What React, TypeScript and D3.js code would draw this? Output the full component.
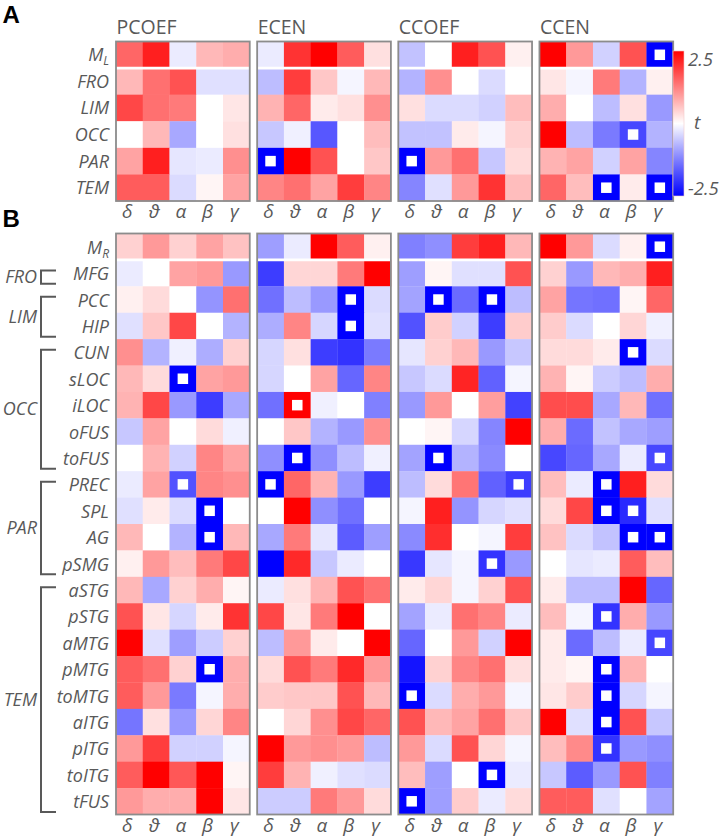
import React from 'react';
import * as d3 from 'd3';

const bands = ['δ', 'ϑ', 'α', 'β', 'γ'];
const measures = ['PCOEF', 'ECEN', 'CCOEF', 'CCEN'];
const lobesA = ['M_L', 'FRO', 'LIM', 'OCC', 'PAR', 'TEM'];
const regionsB = ['M_R', 'MFG', 'PCC', 'HIP', 'CUN', 'sLOC', 'iLOC', 'oFUS', 'toFUS', 'PREC', 'SPL', 'AG', 'pSMG', 'aSTG', 'pSTG', 'aMTG', 'pMTG', 'toMTG', 'aITG', 'pITG', 'toITG', 'tFUS'];
const groupNames = ['FRO', 'LIM', 'OCC', 'PAR', 'TEM'];
const groupFirst = ['MFG', 'PCC', 'CUN', 'PREC', 'aSTG'];
const groupLast = ['MFG', 'HIP', 'toFUS', 'pSMG', 'tFUS'];
const colorTicks = [2.5, -2.5];

const pcoefA = [
  [1.5, 2.2, -0.2, 0.7, 0.8],
  [0.7, 1.4, 1.7, -0.3, -0.3],
  [1.8, 1.4, 1.3, 0, 0.25],
  [0, 0.7, -0.85, 0, 0.3],
  [0.9, 2.2, -0.25, -0.2, 1.1],
  [1.6, 1.6, -0.35, 0.1, 0.9],
];
const ecenA = [
  [-0.2, 2.0, 2.5, 1.6, 0.3],
  [-0.65, 1.9, 0.55, -0.1, 0.7],
  [0.75, 1.5, 0.2, 0.3, 1.1],
  [-0.55, -0.15, -1.65, 0, 0.65],
  [-2.8, 2.5, 1.7, 0, 0.55],
  [1.2, 1.4, 0.9, 1.9, 1.2],
];
const ccoefA = [
  [-0.6, 0, 2.2, 1.7, 0.15],
  [-0.75, 1.1, 0, -0.35, 0],
  [0.3, -0.35, -0.35, -0.45, 0.65],
  [-0.6, -0.6, 0.2, -0.1, 0.45],
  [-2.8, 1.0, 1.4, -0.55, 0.35],
  [-1.2, -0.3, 1.0, 2.0, 0.65],
];
const ccenA = [
  [2.5, 1.0, -0.45, 1.7, -2.8],
  [0.25, -0.1, 1.3, -0.75, 0.15],
  [0.8, 0, -0.65, 0.3, -1.0],
  [2.5, -0.65, -1.3, -1.8, -0.75],
  [0.75, 0.9, -0.45, 0.9, -1.2],
  [1.5, 0.65, -2.8, 0.2, -2.8],
];

const pcoefB = [
  [0.45, 1.0, 0.45, 0.9, 0.6],
  [-0.2, 0, 0.9, 1.0, -1.0],
  [0.15, 0.35, 0, -1.05, 1.4],
  [-0.3, 0.55, 1.8, 0, -0.75],
  [1.1, -0.75, -0.15, -0.8, 0.45],
  [0.7, 0.35, -2.8, 0.9, 1.0],
  [0.75, 1.8, -1.0, -1.9, -0.85],
  [-0.55, 0.9, 0, 0.35, -0.15],
  [0, 0.75, -0.45, 1.2, 0.9],
  [-0.2, 0.9, -1.7, 1.2, 1.1],
  [-0.3, 0.2, -0.35, -2.8, 0],
  [0.7, 0, -0.75, -2.8, 0.7],
  [0.15, 1.0, 0.65, 1.3, 1.8],
  [0.7, -0.85, 0.45, 0.8, 0.1],
  [1.7, 0.25, -0.4, 0.2, 2.0],
  [2.5, -0.3, -0.95, -0.5, 0.45],
  [1.6, 1.4, 0.45, -2.8, 0.8],
  [1.6, 1.0, -1.3, -0.1, 0.8],
  [-1.35, 0.3, -1.0, 0.4, 1.2],
  [1.0, 1.9, -0.45, -0.45, -0.1],
  [1.6, 2.5, 1.65, 2.5, 0.1],
  [1.0, 0.8, 0.8, 2.5, 0.25],
];
const ecenB = [
  [-0.95, -0.2, 2.5, 1.6, 0.15],
  [-1.9, 0.4, 0.4, 1.3, 2.5],
  [-1.4, -0.65, -1.0, -2.8, -0.35],
  [-0.8, 1.2, -0.4, -2.8, -0.3],
  [-0.4, 0.3, -1.9, -2.0, -1.3],
  [-0.4, 0, 0.9, -1.5, 1.2],
  [-1.4, 2.8, -0.15, 0, -1.25],
  [0, 0.55, -0.75, -1.0, 1.1],
  [-1.1, -2.8, -1.1, -0.65, -0.15],
  [-2.8, 1.5, 0.75, -1.0, -1.9],
  [0, 2.5, -1.1, -1.4, 0],
  [-0.85, 1.3, -0.25, -1.6, -0.95],
  [-2.5, 2.1, -0.55, -0.2, 0],
  [-0.2, 0.3, 0.75, 1.7, 1.4],
  [1.8, 0.25, 1.3, 2.5, 0],
  [-0.65, 1.0, 0.2, 0, 2.5],
  [0.35, 1.7, 1.3, 2.1, 1.0],
  [0.5, 0.55, 0.55, 1.7, 0.7],
  [0, 0.4, 1.1, 1.8, 1.5],
  [2.5, 1.0, 1.1, 1.0, -0.65],
  [1.9, 0.75, -0.15, -0.3, -0.35],
  [-0.5, -0.5, 1.3, 1.0, 0.35],
];
const ccoefB = [
  [-1.25, -1.1, 1.9, 2.2, 0.7],
  [-0.95, 0.1, -0.3, -0.3, 1.7],
  [-0.9, -2.8, -1.45, -2.8, -0.65],
  [-1.7, 0.5, -0.45, -1.9, 0.5],
  [-0.25, 0.45, 0.7, -1.0, -0.55],
  [-0.55, -0.35, 2.15, -1.55, -0.1],
  [-1.0, 1.0, 0, 0.95, -1.85],
  [0, 0.1, -0.4, -1.2, 2.5],
  [-0.9, -2.8, -0.75, -1.15, 0],
  [-0.65, 0.35, 1.35, -1.55, -1.9],
  [-0.1, 2.2, -1.05, -0.4, -0.3],
  [-1.15, 2.05, 0, -0.1, 1.9],
  [-1.95, -0.25, -0.1, -2.0, -1.0],
  [0.2, 0.4, -0.1, 0.45, 1.7],
  [-0.9, -0.2, 1.4, 1.2, -0.2],
  [-1.5, 0, 1.0, -0.45, 2.5],
  [-2.3, 0.45, 1.2, 1.4, 0.3],
  [-2.8, -0.35, 0.8, 1.0, -0.1],
  [1.7, 0.7, 0.9, 1.4, 0.55],
  [1.0, -0.35, 1.7, 0.4, -0.1],
  [0.65, -0.95, 0, -2.8, -0.2],
  [-2.8, -0.95, 0.5, -0.2, 0.35],
];
const ccenB = [
  [2.5, 1.0, -0.35, 0.15, -2.8],
  [0.45, -1.0, 0.7, 0.8, 2.2],
  [0.9, -1.35, -1.4, 0.1, 1.5],
  [0.5, -0.35, 0, 0.4, -0.15],
  [0.35, 0.35, 0.2, -2.8, -0.35],
  [0.75, 0.1, -0.5, -0.65, 0.8],
  [1.75, 1.75, -0.85, 0.7, -1.4],
  [0.8, -1.45, -0.6, -0.85, -0.95],
  [-1.8, -1.5, -0.85, -0.2, -1.8],
  [0.65, -0.2, -2.8, 2.2, 0.35],
  [0.35, 1.8, -2.8, -2.1, -0.3],
  [0.6, -0.35, -0.6, -2.8, -2.8],
  [0, -0.25, -0.2, 1.6, 0.65],
  [0.2, -0.65, -0.65, 2.5, -1.5],
  [0.65, -0.1, -2.0, 0.8, -1.0],
  [0.2, -1.45, -0.65, -0.2, -1.8],
  [0.2, 0.1, -2.8, 0.75, 0],
  [0.25, 0.5, -2.8, -0.4, -0.1],
  [2.5, -0.3, -2.8, 1.7, -0.55],
  [0.65, 1.15, -2.0, -1.0, -1.1],
  [-0.55, -1.6, -1.0, 1.7, -1.25],
  [1.6, 1.6, -0.3, 0, -0.9],
];

// significant cells: [row, col]
const pcoefSigA: number[][] = [];
const ecenSigA = [[4, 0]];
const ccoefSigA = [[4, 0]];
const ccenSigA = [[0, 4], [3, 3], [5, 2], [5, 4]];
const pcoefSigB = [[5, 2], [9, 2], [10, 3], [11, 3], [16, 3]];
const ecenSigB = [[2, 3], [3, 3], [6, 1], [8, 1], [9, 0]];
const ccoefSigB = [[2, 1], [2, 3], [8, 1], [9, 4], [12, 3], [17, 0], [20, 3], [21, 0]];
const ccenSigB = [[0, 4], [4, 3], [8, 4], [9, 2], [10, 2], [10, 3], [11, 3], [11, 4], [14, 2], [15, 4], [16, 2], [17, 2], [18, 2], [19, 2]];

const dataA = [pcoefA, ecenA, ccoefA, ccenA];
const dataB = [pcoefB, ecenB, ccoefB, ccenB];
const sigA = [pcoefSigA, ecenSigA, ccoefSigA, ccenSigA];
const sigB = [pcoefSigB, ecenSigB, ccoefSigB, ccenSigB];

const W = 722;
const H = 838;
const FONT = "'Open Sans', 'DejaVu Sans', sans-serif";
const GRAY = '#595959';

const color = d3
  .scaleLinear<string>()
  .domain([-2.5, 0, 2.5])
  .range(['#0000ff', '#ffffff', '#ff0000'])
  .interpolate(d3.interpolateRgb)
  .clamp(true);

const panelX = d3.scaleBand<string>().domain(measures).range([116, 673.2]).paddingInner(0.0525).paddingOuter(0);
const colX = d3.scaleBand<string>().domain(bands).range([0, panelX.bandwidth()]);
const rowA = d3.scaleBand<string>().domain(lobesA).range([41.5, 201]);
const rowB = d3.scaleBand<string>().domain(regionsB).range([233.5, 814.5]);

function RowLabel({ name, y }: { name: string; y: number }) {
  if (name.startsWith('M_')) {
    return (
      <text x={109} y={y} textAnchor="end" fontStyle="italic" fontSize={18} fill={GRAY} fontFamily={FONT}>
        M<tspan fontSize={12} dy={4}>{name.slice(2)}</tspan>
      </text>
    );
  }
  return (
    <text x={109} y={y} textAnchor="end" fontStyle="italic" fontSize={18} fill={GRAY} fontFamily={FONT}>
      {name}
    </text>
  );
}

function Heatmap({
  values,
  sig,
  rows,
  yScale,
  x0,
}: {
  values: number[][];
  sig: number[][];
  rows: string[];
  yScale: d3.ScaleBand<string>;
  x0: number;
}) {
  const cw = colX.bandwidth();
  const ch = yScale.bandwidth();
  const [yTop, yBot] = yScale.range();
  const sepY = yScale(rows[1]) as number;
  const m = 10.5;
  return (
    <g transform={`translate(${x0},0)`}>
      {values.map((row, i) =>
        row.map((v, j) => (
          <rect
            key={`${i}-${j}`}
            x={colX(bands[j])}
            y={yScale(rows[i])}
            width={cw + 0.3}
            height={ch + 0.3}
            fill={color(v)}
          />
        ))
      )}
      {sig.map(([i, j]) => (
        <rect
          key={`s${i}-${j}`}
          x={(colX(bands[j]) as number) + cw / 2 - m / 2}
          y={(yScale(rows[i]) as number) + ch / 2 - m / 2}
          width={m}
          height={m}
          fill="#ffffff"
        />
      ))}
      <line x1={0} x2={colX.range()[1]} y1={sepY} y2={sepY} stroke="#ffffff" strokeWidth={2.6} />
      <rect x={0} y={yTop} width={colX.range()[1]} height={yBot - yTop} fill="none" stroke="#8c8c8c" strokeWidth={1.8} />
    </g>
  );
}

function BandLabels({ x0, y }: { x0: number; y: number }) {
  return (
    <g transform={`translate(${x0},0)`}>
      {bands.map((b) => (
        <text
          key={b}
          x={(colX(b) as number) + colX.bandwidth() / 2 - 2}
          y={y}
          textAnchor="middle"
          fontStyle="italic"
          fontSize={19}
          fill={GRAY}
          fontFamily={FONT}
        >
          {b}
        </text>
      ))}
    </g>
  );
}

export default function App() {
  const cbX = 673;
  const cbW = 11;
  const cbTop = 51;
  const cbBot = 196;
  const cbScale = d3.scaleLinear().domain([2.5, -2.5]).range([cbTop, cbBot]);
  const stops = d3.range(0, 1.0001, 0.1);
  return (
    <svg
      width={W}
      height={H}
      viewBox={`0 0 ${W} ${H}`}
      style={{ position: 'absolute', left: 0, top: 0, background: '#ffffff' }}
    >
      <defs>
        <linearGradient id="cbGrad" x1="0" y1="0" x2="0" y2="1">
          {stops.map((s) => (
            <stop key={s} offset={s} stopColor={color(2.5 - 5 * s)} />
          ))}
        </linearGradient>
      </defs>
      <rect x={0} y={0} width={W} height={H} fill="#ffffff" />

      {/* Panel letters */}
      <text x={2.5} y={22.5} fontSize={24} fontWeight="bold" fontFamily="'Liberation Sans', Arial, sans-serif" fill="#000">A</text>
      <text x={2.5} y={227} fontSize={24} fontWeight="bold" fontFamily="'Liberation Sans', Arial, sans-serif" fill="#000">B</text>

      {/* Panel A */}
      {measures.map((m) => (
        <text key={m} x={(panelX(m) as number) + 0.5} y={33.5} fontSize={19.5} fill={GRAY} fontFamily={FONT}>
          {m}
        </text>
      ))}
      {lobesA.map((r) => (
        <RowLabel key={r} name={r} y={(rowA(r) as number) + rowA.bandwidth() / 2 + 6.5} />
      ))}
      {measures.map((m, k) => (
        <Heatmap key={m} values={dataA[k]} sig={sigA[k]} rows={lobesA} yScale={rowA} x0={panelX(m) as number} />
      ))}
      {measures.map((m) => (
        <BandLabels key={m} x0={panelX(m) as number} y={218} />
      ))}

      {/* Colorbar */}
      <rect x={cbX} y={cbTop} width={cbW} height={cbBot - cbTop} fill="url(#cbGrad)" stroke="#f0c8c8" strokeWidth={0.6} />
      {colorTicks.map((t) => (
        <text key={t} x={cbX + 15} y={cbScale(t) + (t > 0 ? 15 : -1)} fontSize={18.5} fontStyle="italic" fill={GRAY} fontFamily={FONT}>
          {t > 0 ? `${t}` : `-${Math.abs(t)}`}
        </text>
      ))}
      <text x={cbX + 21} y={cbScale(0) + 5} fontSize={19} fontStyle="italic" fill={GRAY} fontFamily={FONT}>t</text>

      {/* Panel B */}
      {regionsB.map((r) => (
        <RowLabel key={r} name={r} y={(rowB(r) as number) + rowB.bandwidth() / 2 + 7} />
      ))}
      {groupNames.map((g, k) => {
        const top = (rowB(groupFirst[k]) as number) + 10.5;
        const bot = (rowB(groupLast[k]) as number) + rowB.bandwidth() - 2.5;
        const mid = (top + bot) / 2;
        return (
          <g key={g}>
            <path d={`M56,${top}H41V${bot}H56`} fill="none" stroke={GRAY} strokeWidth={2} />
            <text x={37} y={mid + 6} textAnchor="end" fontStyle="italic" fontSize={18} fill={GRAY} fontFamily={FONT}>
              {g}
            </text>
          </g>
        );
      })}
      {measures.map((m, k) => (
        <Heatmap key={m} values={dataB[k]} sig={sigB[k]} rows={regionsB} yScale={rowB} x0={panelX(m) as number} />
      ))}
      {measures.map((m) => (
        <BandLabels key={m} x0={panelX(m) as number} y={832} />
      ))}
    </svg>
  );
}
